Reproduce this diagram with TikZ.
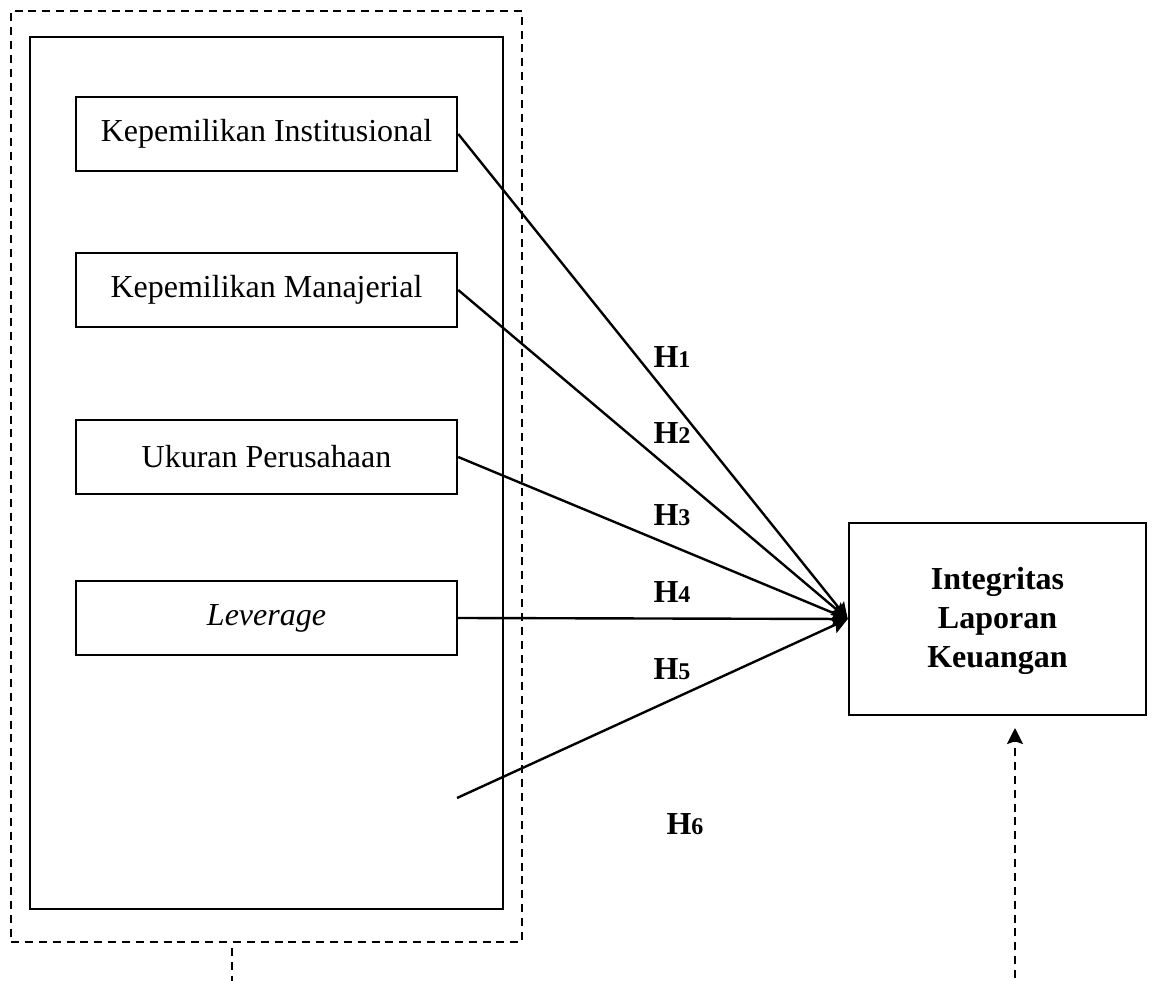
\documentclass[tikz,border=0pt]{standalone}
\usepackage{fontspec}
\setmainfont{Liberation Serif}
\usetikzlibrary{arrows.meta}

\begin{document}
\begin{tikzpicture}[x=0.375pt, y=-0.375pt, >={Stealth[length=6pt, width=6pt, inset=1pt]}, line width=0.9pt,
  varbox/.style={draw, minimum width=142.9pt, minimum height=27.75pt, inner sep=0pt, font=\fontsize{12}{14}\selectfont},
  hlabel/.style={font=\bfseries\fontsize{12}{14}\selectfont},
  dashline/.style={dash pattern=on 3pt off 2.2pt}]
\useasboundingbox (0,0) rectangle (1152,981);
%--- Group of independent variables ---
\node[draw, dashline, minimum width=191.6pt, minimum height=349.1pt, inner sep=0pt] (grp) at (266.5,476.5) {};
\node[draw, minimum width=177.4pt, minimum height=327pt, inner sep=0pt] (inner) at (266.5,473) {};
\node[varbox] (inst) at (266.5,134) {Kepemilikan Institusional};
\node[varbox] (mnj) at (266.5,290) {Kepemilikan Manajerial};
\node[varbox] (ukr) at (266.5,457) {Ukuran Perusahaan};
\node[varbox] (lev) at (266.5,618) {\itshape Leverage};
\coordinate (h5start) at (457,798);
%--- Dependent variable ---
\node[draw, minimum width=111.4pt, minimum height=72pt, inner sep=0pt, align=center,
  font=\bfseries\fontsize{12}{14.6}\selectfont] (ilk) at (997.5,619) {\rule{0pt}{10pt}Integritas\\Laporan\\Keuangan};
% Hypothesis arrows
\draw[->] (inst.east) -- (ilk.west);
\draw[->] (mnj.east) -- (ilk.west);
\draw[->] (ukr.east) -- (ilk.west);
\draw[->] (lev.east) -- (ilk.west);
\draw[->] (h5start) -- (ilk.west);
% Labels
\node[hlabel] (lh1) at (672,357) {H{\small 1}};
\node[hlabel] (lh2) at (672,433) {H{\small 2}};
\node[hlabel] (lh3) at (672,515) {H{\small 3}};
\node[hlabel] (lh4) at (672,592) {H{\small 4}};
\node[hlabel] (lh5) at (672,669) {H{\small 5}};
\node[hlabel] (lh6) at (685,824) {H{\small 6}};
%--- Simultaneous effect (H6) ---
\coordinate (grpout) at (232,948);
\coordinate (grpend) at (232,981);
\coordinate (ilkin) at (1015,978);
\coordinate (ilktip) at (1015,728);
\draw[dashline] (grpout) -- (grpend);
\draw[dashline, ->] (ilkin) -- (ilktip);
\end{tikzpicture}
\end{document}
